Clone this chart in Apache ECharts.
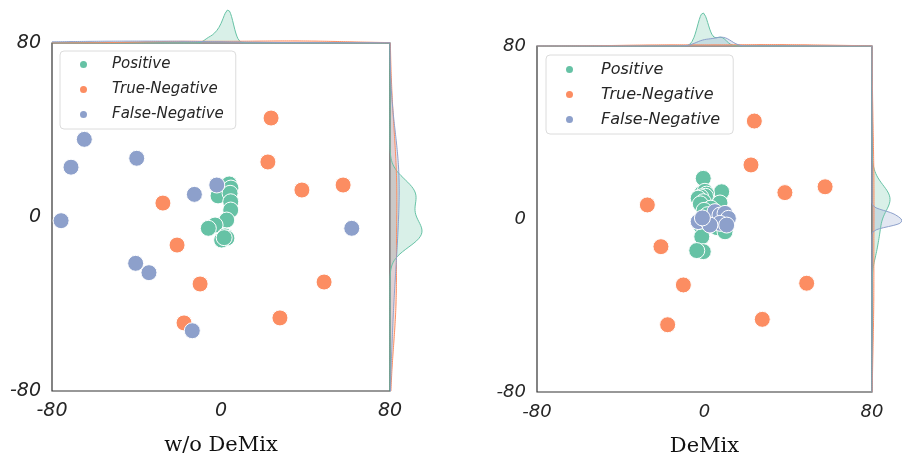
<!DOCTYPE html>
<html>
<head>
<meta charset="utf-8">
<style>
  html, body { margin: 0; padding: 0; background: #fff; }
  #chart { width: 902px; height: 455px; }
</style>
</head>
<body>
<div id="chart"></div>

<script src="https://cdn.jsdelivr.net/npm/echarts@6/dist/echarts.min.js"></script>
<script>
    // categories and colours (seaborn Set2)
    var categories = ['Positive', 'True-Negative', 'False-Negative'];
    var colors = ['#66c2a5', '#fc8d62', '#8da0cb'];
    var panelLabels = ['w/o DeMix', 'DeMix'];
    var tickValues = [-80, 0, 80];

    // points, [x, y]
    var posL = [[3.9, 15.2], [4.7, 13.3], [-1.4, 9.7], [4.3, 10.9], [4.6, 7.0], [4.6, 3.2], [2.7, -1.4],
                [-2.8, -3.7], [-6.0, -5.2], [1.9, -8.7], [2.8, -9.7], [0.3, -10.6], [1.5, -9.5]];
    var negL = [[23.7, 45.5], [22.2, 25.3], [38.3, 12.4], [57.8, 14.7], [-27.5, 6.4], [-20.8, -12.9],
                [-9.9, -30.8], [-17.5, -48.7], [27.9, -46.4], [48.8, -29.9]];
    var fnL = [[-64.7, 35.7], [-71.0, 22.9], [-39.9, 27.0], [-12.6, 10.4], [-2.0, 14.7], [-75.7, -1.7],
               [61.9, -5.2], [-40.4, -21.3], [-34.1, -25.6], [-13.6, -52.3]];

    var posR = [[-0.6, 18.8], [8.2, 12.6], [-1.3, 11.9], [0.2, 12.8], [1.0, 11.5], [0.5, 10.5], [-1.8, 10.2],
                [-3.0, 9.6], [-0.6, 8.0], [-2.0, 7.0], [7.4, 7.4], [3.0, 5.0], [-0.2, 4.0], [1.5, 2.0],
                [-1.5, -3.5], [6.0, -4.0], [-1.3, -8.2], [9.8, -5.9], [-0.6, -15.1], [-3.7, -14.6]];
    var negR = [[23.8, 45.3], [22.2, 25.0], [38.4, 12.2], [57.6, 14.9], [-27.3, 6.5], [-20.8, -12.8],
                [-10.1, -30.5], [-17.6, -48.9], [27.6, -46.4], [48.8, -29.7]];
    var fnR = [[-3.0, -1.2], [1.0, -0.5], [5.0, 3.4], [7.4, 1.8], [9.8, 2.6], [11.4, 0.3], [7.4, -2.0],
               [2.6, -2.8], [10.6, -2.8], [-1.0, 0.5]];

    var panels = [[posL, negL, fnL], [posR, negR, fnR]];

    // kde grid for the marginal plots
    var kdeGrid = [];
    for (var g = -80; g <= 80; g += 0.5) kdeGrid.push(g);

    // gaussian kde, scott bandwidth, weighted by group share (like seaborn common_norm)
    function kde(vals, weight) {
        var n = vals.length;
        var mean = vals.reduce(function (a, b) { return a + b; }, 0) / n;
        var sd = Math.sqrt(vals.reduce(function (a, v) { return a + (v - mean) * (v - mean); }, 0) / (n - 1));
        var bw = sd * Math.pow(n, -0.2);
        return kdeGrid.map(function (x) {
            var s = 0;
            vals.forEach(function (v) { var z = (x - v) / bw; s += Math.exp(-0.5 * z * z); });
            return weight * s / (n * bw * Math.sqrt(2 * Math.PI));
        });
    }

    // layout of the two panels
    var layout = [
        { left: 52, top: 43, width: 338, height: 348, topH: 36, topPeak: 33, rightW: 36, rightPeak: 32, font: 19, legendFont: 15,
          legend: { left: 60, top: 51, padding: [4, 12, 5, 18], gap: 6, textPad: 19 } },
        { left: 537, top: 46, width: 335, height: 346, topH: 36, topPeak: 33, rightW: 30, rightPeak: 30, font: 18, legendFont: 16,
          legend: { left: 546, top: 55, padding: [5, 13, 5, 18], gap: 6, textPad: 22 } }
    ];

    var grids = [], xAxes = [], yAxes = [], series = [], legends = [];
    var labelStyle = { fontFamily: 'DejaVu Sans', fontStyle: 'italic', color: '#262626' };

    panels.forEach(function (groups, p) {
        var L = layout[p];
        var base = p * 3;
        var total = groups.reduce(function (a, gr) { return a + gr.length; }, 0);

        // main grid, top marginal, right marginal
        grids.push({ left: L.left, top: L.top, width: L.width, height: L.height, show: true, outerBoundsMode: 'none',
                     borderColor: '#333', borderWidth: 1.2, backgroundColor: '#fff' });
        grids.push({ left: L.left, top: L.top - L.topH, width: L.width, height: L.topH, outerBoundsMode: 'none' });
        grids.push({ left: L.left + L.width, top: L.top, width: L.rightW, height: L.height, outerBoundsMode: 'none' });

        var topCurves = groups.map(function (gr) { return kde(gr.map(function (d) { return d[0]; }), gr.length / total); });
        var rightCurves = groups.map(function (gr) { return kde(gr.map(function (d) { return d[1]; }), gr.length / total); });
        var topMax = Math.max.apply(null, topCurves.map(function (c) { return Math.max.apply(null, c); }));
        var rightMax = Math.max.apply(null, rightCurves.map(function (c) { return Math.max.apply(null, c); }));

        xAxes.push({
            gridIndex: base, type: 'value', min: -80, max: 80, interval: 80,
            axisLine: { show: false }, axisTick: { show: false }, splitLine: { show: false },
            axisLabel: Object.assign({ fontSize: L.font, margin: 11 }, labelStyle),
            name: panelLabels[p], nameLocation: 'middle', nameGap: 44,
            nameTextStyle: { fontFamily: 'DejaVu Serif', fontSize: 21, color: '#111' }
        });
        yAxes.push({
            gridIndex: base, type: 'value', min: -80, max: 80, interval: 80,
            axisLine: { show: false }, axisTick: { show: false }, splitLine: { show: false },
            axisLabel: Object.assign({ fontSize: L.font, margin: 11 }, labelStyle)
        });
        xAxes.push({ gridIndex: base + 1, type: 'value', min: -80, max: 80, show: false });
        yAxes.push({ gridIndex: base + 1, type: 'value', min: 0, max: topMax * L.topH / L.topPeak, show: false });
        xAxes.push({ gridIndex: base + 2, type: 'value', min: 0, max: rightMax * L.rightW / L.rightPeak, show: false });
        yAxes.push({ gridIndex: base + 2, type: 'category', boundaryGap: false, data: kdeGrid.map(String), show: false });

        groups.forEach(function (gr, i) {
            series.push({
                name: categories[i], type: 'scatter', xAxisIndex: base, yAxisIndex: base,
                data: gr, symbolSize: 16, z: 3,
                itemStyle: { color: colors[i], opacity: 1, borderColor: '#fff', borderWidth: 1 }
            });
        });
        groups.forEach(function (gr, i) {
            series.push({
                name: 'top-' + p + '-' + i, type: 'line', xAxisIndex: base + 1, yAxisIndex: base + 1,
                data: kdeGrid.map(function (x, k) { return [x, topCurves[i][k]]; }),
                showSymbol: false, silent: true, z: 4,
                lineStyle: { color: colors[i], width: 1 },
                areaStyle: { color: colors[i], opacity: 0.25 }
            });
            series.push({
                name: 'right-' + p + '-' + i, type: 'line', xAxisIndex: base + 2, yAxisIndex: base + 2,
                data: rightCurves[i], showSymbol: false, silent: true, z: 4,
                lineStyle: { color: colors[i], width: 1 },
                areaStyle: { color: colors[i], opacity: 0.25 }
            });
        });

        legends.push({
            data: categories, orient: 'vertical', left: L.legend.left, top: L.legend.top,
            padding: L.legend.padding, itemGap: L.legend.gap, itemWidth: 9, itemHeight: 9, icon: 'circle',
            backgroundColor: '#fff', borderColor: '#dcdcdc', borderWidth: 1, borderRadius: 4,
            selectedMode: false, z: 10,
            textStyle: { fontFamily: 'DejaVu Sans', fontStyle: 'italic', fontSize: L.legendFont, color: '#262626',
                         lineHeight: 19, padding: [0, 0, 0, L.legend.textPad] }
        });
    });

    var myChart = echarts.init(document.getElementById('chart'));
    myChart.setOption({
        animation: false,
        backgroundColor: '#fff',
        grid: grids,
        xAxis: xAxes,
        yAxis: yAxes,
        legend: legends,
        series: series
    });
</script>
</body>
</html>
